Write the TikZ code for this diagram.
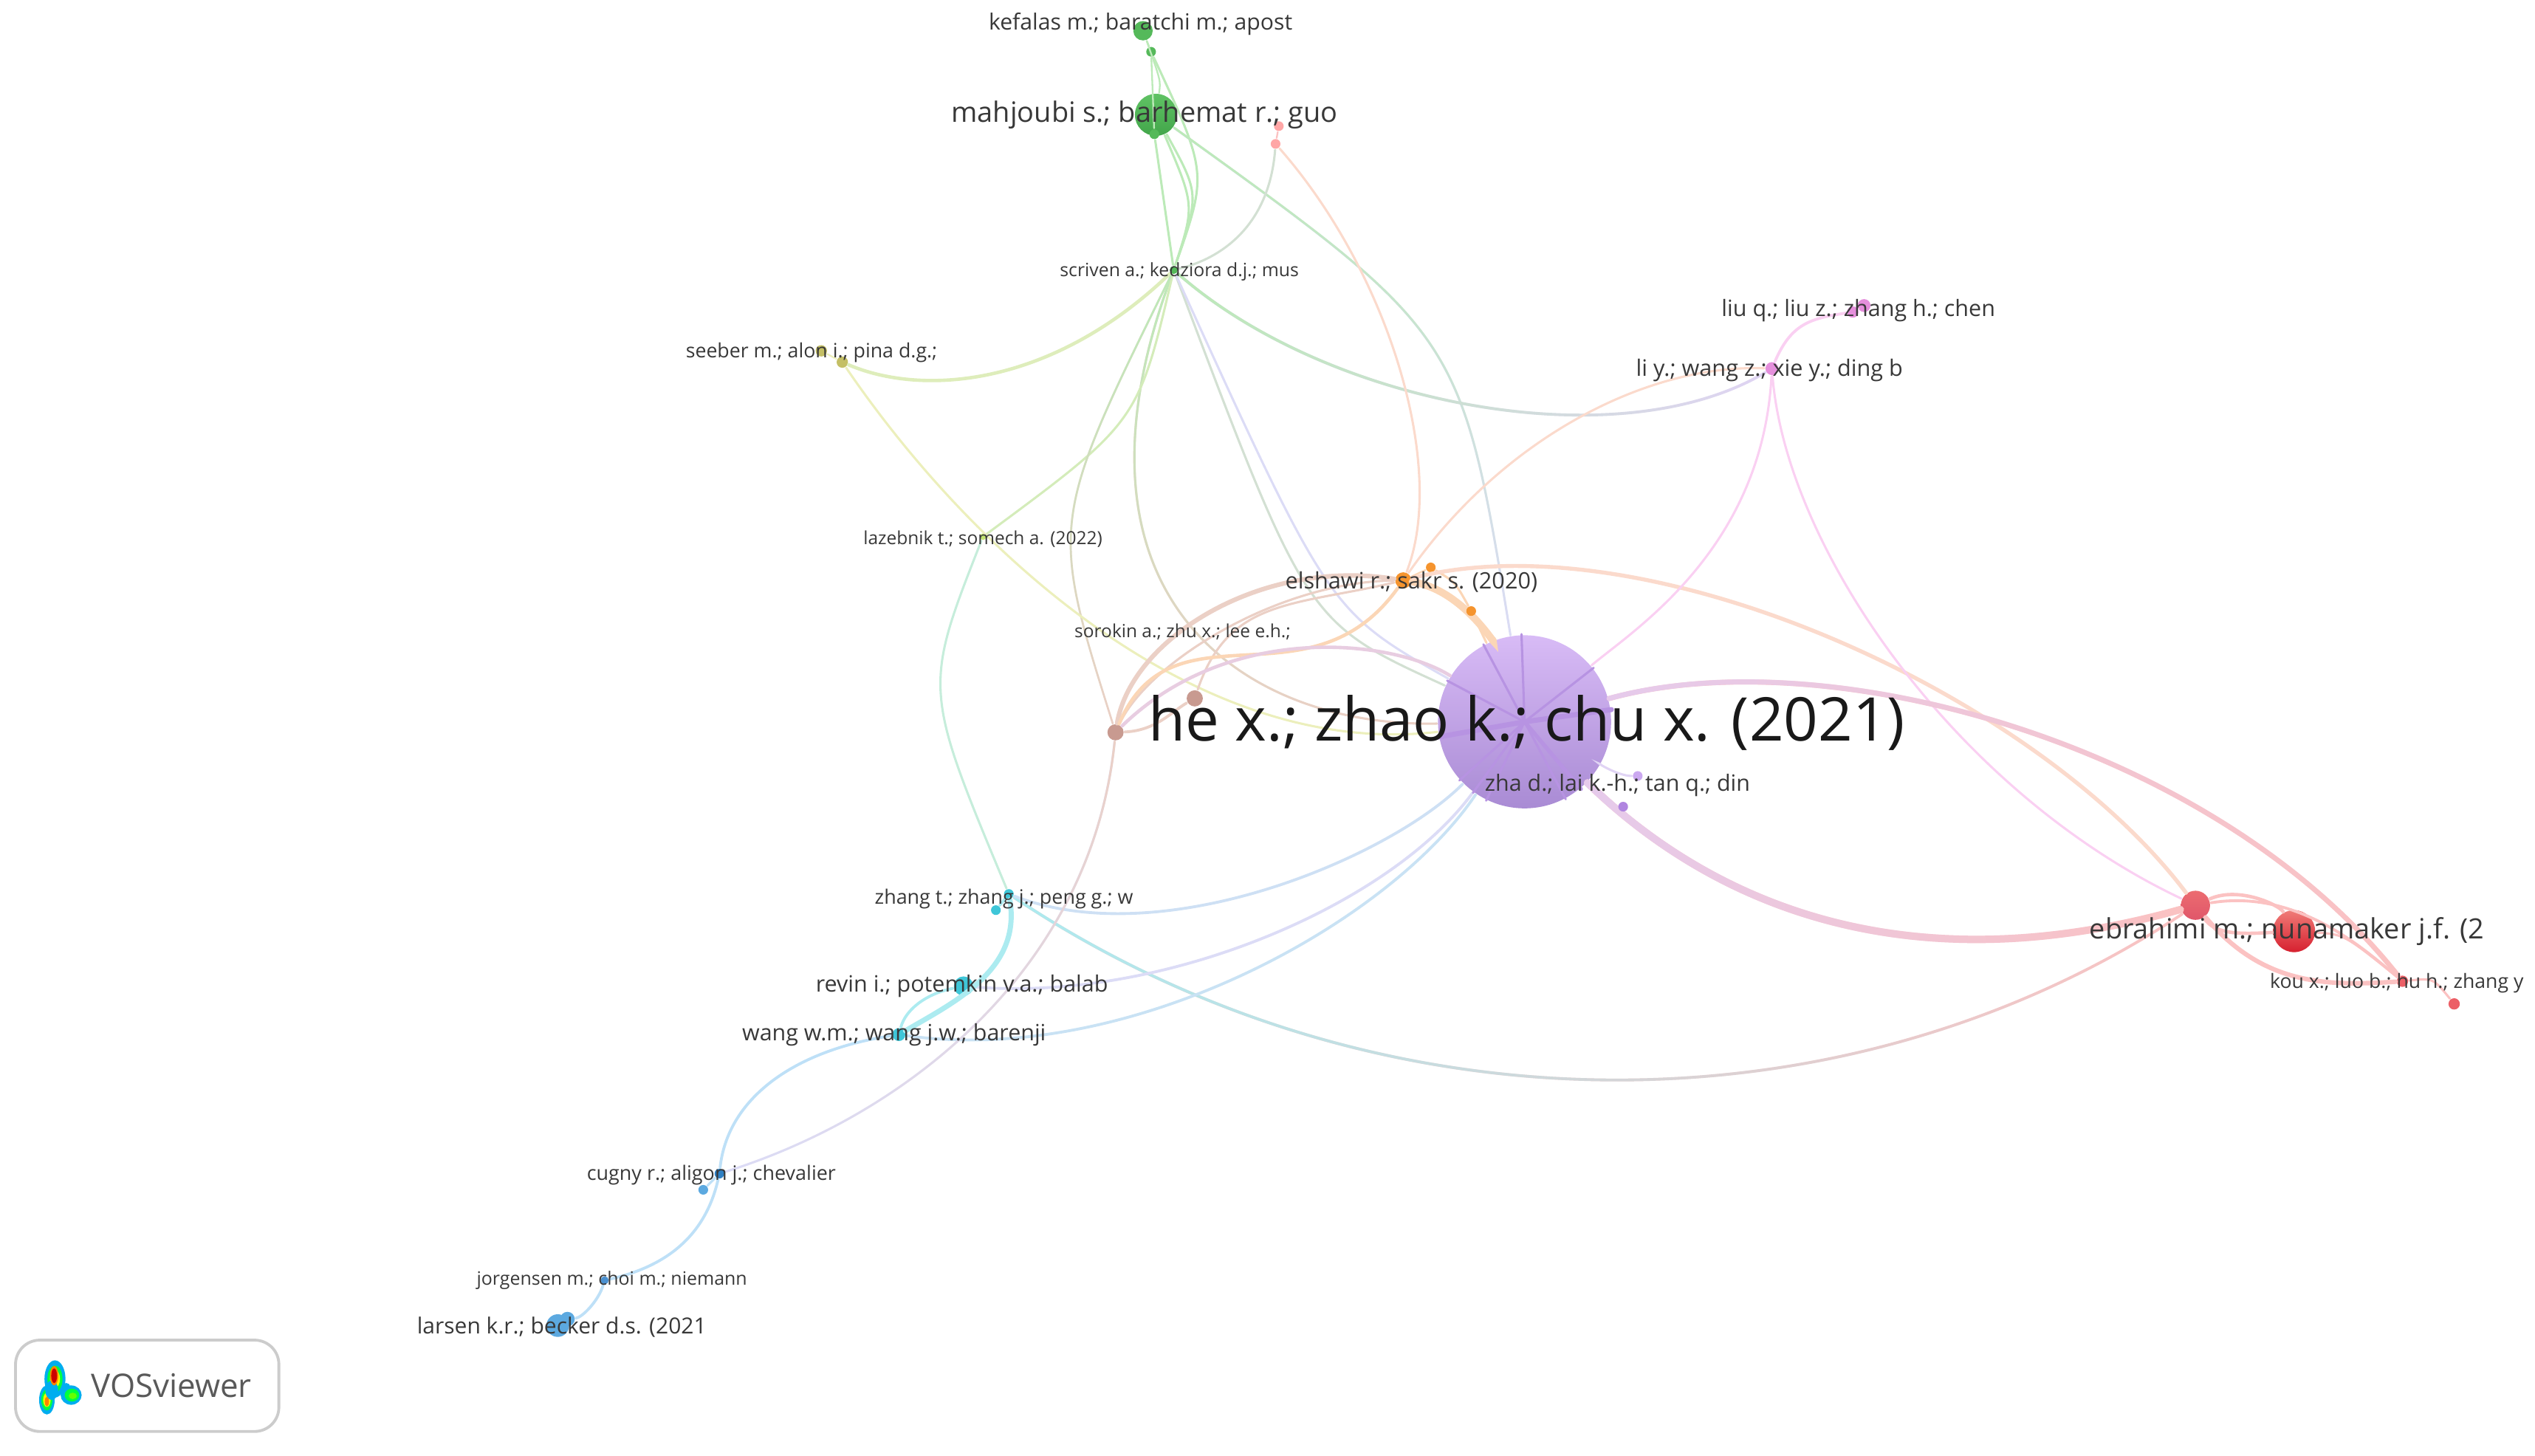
\documentclass[tikz,border=0pt]{standalone}
\usepackage{fontspec}
\setmainfont{Open Sans}
\usetikzlibrary{fadings}
\definecolor{greenlnk}{HTML}{BCEAB8}
\definecolor{greyg}{HTML}{D3E0D3}
\definecolor{violetlnk}{HTML}{E0D4F4}
\definecolor{orangelnk}{HTML}{FBD6B6}
\definecolor{peachlnk}{HTML}{FBDACC}
\definecolor{pinklnk}{HTML}{FAD0F2}
\definecolor{redlnk}{HTML}{FBC2C2}
\definecolor{brownlnk}{HTML}{EBD0C6}
\definecolor{yellowlnk}{HTML}{ECEFBC}
\definecolor{cyanlnk}{HTML}{ACEBF0}
\definecolor{bluelnk}{HTML}{BEE0F7}
\definecolor{lilaclnk}{HTML}{DCDCF6}
\definecolor{mauvelnk}{HTML}{E6CBEC}
\definecolor{greenpub}{HTML}{55B95A}
\definecolor{greentop}{HTML}{60C264}
\definecolor{greenbot}{HTML}{42A64A}
\definecolor{orangepub}{HTML}{F5942E}
\definecolor{brownpub}{HTML}{C89A90}
\definecolor{cyanpub}{HTML}{3FC6D8}
\definecolor{bluepub}{HTML}{5CA9E0}
\definecolor{bluedark}{HTML}{2F80C4}
\definecolor{bluemid}{HTML}{4A90D0}
\definecolor{pinkpub}{HTML}{E58FDC}
\definecolor{redpub}{HTML}{EC5F66}
\definecolor{heavytop}{HTML}{D8BBF6}
\definecolor{heavybot}{HTML}{A98BD4}
\definecolor{spoke}{HTML}{B793E2}
\definecolor{lilacpub}{HTML}{CBA8F0}
\definecolor{purplepub}{HTML}{B085E0}
\definecolor{ebratop}{HTML}{EC6C70}
\definecolor{ebrabot}{HTML}{E0566A}
\definecolor{nunatop}{HTML}{F07C78}
\definecolor{nunabot}{HTML}{D6202F}
\tikzset{
	pub/.style={circle,inner sep=0pt,minimum size=#1},
	ball/.style n args={2}{top color=#1,bottom color=#2,draw=none},
	lnk/.style={line width=#1,line cap=round},
	lnk/.default=0.3pt,
	lbl/.style={font=\fontsize{#1}{#1}\selectfont,text=black!78,inner sep=0pt}
}
\begin{document}
\begin{tikzpicture}[x=0.01cm,y=-0.01cm]
	%%%%% PUBLICATIONS %%%%%
	\useasboundingbox (0,0) rectangle (1568,900.3);
	
	\node[pub=0.12cm,fill=greenpub] (kefalasa) at (707,19) {};
	\node[pub=0.06cm,fill=greenpub] (kefalasb) at (712,32) {};
	\node[pub=0.26cm,ball={greentop}{greenbot}] (mahjoubi) at (715,71) {};
	\node[pub=0.06cm,fill=greenpub] (mahjoubib) at (714,83) {};
	\node[pub=0.05cm,fill=greenpub] (scriven) at (726,167) {};
	\node[pub=0.06cm,fill=red!35] (pinka) at (791,78) {};
	\node[pub=0.06cm,fill=red!35] (pinkb) at (789,89) {};
	\node[pub=0.07cm,fill=yellow!65!black!75] (seebera) at (508,217) {};
	\node[pub=0.07cm,fill=yellow!65!black!75] (seeberb) at (521,224) {};
	\node[pub=0.04cm,fill=yellow!60!green!60] (lazebnik) at (608,332) {};
	\node[pub=0.08cm,fill=pinkpub] (liua) at (1153,189) {};
	\node[pub=0.07cm,fill=pinkpub] (liub) at (1146,193) {};
	\node[pub=0.08cm,fill=pinkpub] (li) at (1096,228) {};
	\node[pub=0.10cm,fill=orangepub] (elshawi) at (868,359) {};
	\node[pub=0.06cm,fill=orangepub] (elshawib) at (885,351) {};
	\node[pub=0.10cm,fill=brownpub] (sorokin) at (739,432) {};
	\node[pub=0.10cm,fill=brownpub] (sorokinb) at (690,453) {};
	\node[pub=1.07cm,ball={heavytop}{heavybot}] (he) at (943,446.5) {};
	\node[pub=0.06cm,fill=lilacpub] (zhaa) at (1013,480) {};
	\node[pub=0.18cm,ball={ebratop}{ebrabot}] (ebrahimi) at (1358,560) {};
	\node[pub=0.26cm,ball={nunatop}{nunabot}] (nunamaker) at (1419,576) {};
	\node[pub=0.07cm,fill=redpub] (kou) at (1486,607) {};
	\node[pub=0.07cm,fill=redpub] (koub) at (1518,621) {};
	\node[pub=0.06cm,fill=cyanpub] (zhanga) at (624,553) {};
	\node[pub=0.06cm,fill=cyanpub] (zhangb) at (616,563) {};
	\node[pub=0.12cm,fill=cyanpub] (revin) at (596,610) {};
	\node[pub=0.08cm,fill=cyanpub] (wang) at (556,640) {};
	\node[pub=0.06cm,fill=bluedark] (cugnya) at (445,726) {};
	\node[pub=0.06cm,fill=bluepub] (cugnyb) at (435,736) {};
	\node[pub=0.05cm,fill=bluemid] (jorgensen) at (374,792) {};
	\node[pub=0.14cm,fill=bluepub] (larsen) at (345,820) {};
	\node[pub=0.09cm,fill=bluepub] (larsenb) at (351,816) {};
	
	%%%%% LINKS %%%%%
	\draw[lnk,greenlnk] (kefalasa) -- (kefalasb);
	\draw[lnk,greenlnk] (kefalasb) -- (mahjoubib);
	\draw[lnk,greenlnk] (kefalasa) .. controls (718,50) .. (mahjoubi);
	\draw[lnk=0.4pt,greenlnk] (kefalasb) .. controls (747,107) .. (scriven);
	\draw[lnk=0.4pt,greenlnk] (mahjoubib) -- (scriven);
	\draw[lnk=0.4pt,greenlnk] (mahjoubi) .. controls (739,127) .. (scriven);
	\draw[lnk=0.4pt,greenlnk] (mahjoubi) .. controls (742,120) .. (scriven);
	\draw[lnk=0.4pt,lilaclnk] (mahjoubi) .. controls (904,207) .. (he);
	\draw[lnk=0.4pt,greenlnk,path fading=south] (mahjoubi) .. controls (904,207) .. (he);
	\draw[lnk=0.4pt,greyg] (scriven) .. controls (808,385) .. (he);
	\draw[lnk=0.4pt,lilaclnk] (scriven) .. controls (822,378) .. (he);
	\draw[lnk=0.4pt,brownlnk] (scriven) .. controls (650,370) and (770,450) .. (he);
	\draw[lnk=0.4pt,greenlnk,path fading=south] (scriven) .. controls (650,370) and (770,450) .. (he);
	\draw[lnk=0.6pt,yellowlnk!70!greenlnk] (scriven) .. controls (650,240) and (570,245) .. (seeberb);
	\draw[lnk=0.5pt,violetlnk] (scriven) .. controls (820,250) and (1000,285) .. (li);
	\draw[lnk=0.5pt,greenlnk,path fading=east] (scriven) .. controls (820,250) and (1000,285) .. (li);
	\draw[lnk=0.4pt,yellowlnk!50!greenlnk] (scriven) .. controls (704,261) .. (lazebnik);
	\draw[lnk=0.35pt,brownlnk] (scriven) .. controls (649,323) .. (sorokinb);
	\draw[lnk=0.35pt,greenlnk,path fading=south] (scriven) .. controls (649,323) .. (sorokinb);
	\draw[lnk=0.4pt,yellowlnk] (seeberb) .. controls (600,340) and (740,470) .. (he);
	\draw[lnk,yellowlnk] (seebera) -- (seeberb);
	
	\draw[lnk=0.8pt,brownlnk] (sorokinb) .. controls (700,395) and (780,345) .. (elshawi);
	\draw[lnk=0.4pt,brownlnk] (sorokinb) .. controls (710,410) and (790,360) .. (elshawi);
	\draw[lnk=0.4pt,brownlnk] (sorokin) .. controls (760,370) and (800,375) .. (elshawi);
	\draw[lnk=0.6pt,orangelnk] (sorokinb) .. controls (725,370) and (810,440) .. (elshawi);
	\draw[lnk=0.6pt,mauvelnk!70!brownlnk] (sorokinb) .. controls (760,385) and (860,395) .. (he);
	\draw[lnk=0.5pt,brownlnk] (sorokinb) .. controls (715,452) and (725,440) .. (sorokin);
	\draw[lnk=1.3pt,orangelnk] (elshawi) .. controls (905,365) and (925,400) .. (he);
	\node[pub=0.06cm,fill=orangepub] (elshawic) at (910,378) {};
	\draw[lnk,orangelnk] (elshawi) -- (elshawib);
	\draw[lnk=0.4pt,orangelnk] (elshawib) .. controls (900,360) .. (elshawic);
	\draw[lnk=0.4pt,orangelnk] (elshawic) -- (he);
	\draw[lnk=0.4pt,peachlnk] (pinkb) .. controls (860,170) and (895,290) .. (elshawi);
	\draw[lnk=0.7pt,peachlnk] (elshawi) .. controls (1020,320) and (1260,430) .. (ebrahimi);
	\draw[lnk=0.4pt,peachlnk] (elshawi) .. controls (930,270) and (1020,225) .. (li);
	\draw[lnk,redlnk] (pinka) -- (pinkb);
	\draw[lnk=0.4pt,greyg] (pinkb) .. controls (785,140) and (755,160) .. (scriven);
	
	\draw[lnk=0.5pt,pinklnk] (li) .. controls (1108,200) and (1120,197) .. (liub);
	\draw[lnk,pinklnk] (liua) -- (liub);
	\draw[lnk=0.4pt,pinklnk] (li) .. controls (1090,340) and (1010,390) .. (he);
	\draw[lnk=0.4pt,pinklnk] (li) .. controls (1105,340) and (1210,490) .. (ebrahimi);
	
	\draw[lnk=0.9pt,redlnk] (he) .. controls (1130,395) and (1370,460) .. (kou);
	\draw[lnk=0.9pt,mauvelnk,path fading=east] (he) .. controls (1130,395) and (1370,460) .. (kou);
	\draw[lnk=1.3pt,redlnk] (he) .. controls (1060,560) and (1180,610) .. (ebrahimi);
	\draw[lnk=1.3pt,mauvelnk,path fading=east] (he) .. controls (1060,560) and (1180,610) .. (ebrahimi);
	\node[pub=0.06cm,fill=purplepub] (zhab) at (1004,499) {};
	\draw[lnk=0.4pt,violetlnk] (he) .. controls (985,470) and (1000,480) .. (zhaa);
	\draw[lnk=0.6pt,redlnk] (ebrahimi) .. controls (1385,548) and (1410,560) .. (nunamaker);
	\draw[lnk=0.6pt,redlnk] (ebrahimi) .. controls (1370,578) and (1385,578) .. (nunamaker);
	\draw[lnk=0.8pt,redlnk] (ebrahimi) .. controls (1400,610) and (1440,610) .. (kou);
	\draw[lnk=0.5pt,redlnk] (ebrahimi) .. controls (1420,550) and (1460,585) .. (kou);
	\draw[lnk=0.4pt,redlnk] (nunamaker) .. controls (1450,578) .. (kou);
	\draw[lnk=0.4pt,redlnk] (kou) .. controls (1505,605) .. (koub);
	
	\draw[lnk=0.5pt,redlnk] (zhanga) .. controls (850,704) and (1140,704) .. (ebrahimi);
	\draw[lnk=0.5pt,cyanlnk,path fading=east] (zhanga) .. controls (850,704) and (1140,704) .. (ebrahimi);
	\draw[lnk=0.5pt,lilaclnk] (he) .. controls (860,560) and (720,620) .. (revin);
	\draw[lnk=0.5pt,lilaclnk!70!cyanlnk] (he) .. controls (860,530) and (720,590) .. (zhanga);
	\draw[lnk=0.5pt,lilaclnk!60!cyanlnk] (he) .. controls (860,570) and (700,660) .. (wang);
	\draw[lnk=0.4pt,lilaclnk] (sorokinb) .. controls (675,600) and (560,690) .. (cugnya);
	\draw[lnk=0.4pt,brownlnk,path fading=south] (sorokinb) .. controls (675,600) and (560,690) .. (cugnya);
	\draw[lnk=0.9pt,cyanlnk] (zhanga) .. controls (632,600) and (590,620) .. (wang);
	\draw[lnk=0.5pt,cyanlnk] (zhanga) -- (zhangb);
	\draw[lnk=0.5pt,cyanlnk] (revin) .. controls (572,615) and (560,625) .. (wang);
	\draw[lnk=0.4pt,cyanlnk!60!yellowlnk] (lazebnik) .. controls (571,426) .. (zhanga);
	\draw[lnk=0.5pt,bluelnk] (wang) .. controls (490,650) and (450,680) .. (cugnya);
	\draw[lnk=0.4pt,bluelnk] (cugnya) -- (cugnyb);
	\draw[lnk=0.5pt,bluelnk] (cugnya) .. controls (435,770) and (405,785) .. (jorgensen);
	\draw[lnk=0.5pt,bluelnk] (jorgensen) .. controls (370,805) and (360,815) .. (larsenb);
	
	\foreach \ang/\wid in {38/0.4pt,92/0.4pt,118/0.4pt,152/0.4pt,190/0.9pt,222/0.4pt,234/0.4pt,244/0.4pt,-50/0.7pt,-62/0.4pt,8/0.9pt} {
		\draw[lnk=\wid,spoke] (he.center) -- (he.\ang);
	}
	
	%%%%% LABELS %%%%%
	\node[lbl=3.92] (kefalaslbl) at (705.5,15) {kefalas m.; baratchi m.; apost};
	\node[lbl=4.93] (mahjoubilbl) at (708,71) {mahjoubi s.; barhemat r.; guo};
	\node[lbl=3.22] (scrivenlbl) at (729.5,168) {scriven a.; kedziora d.j.; mus};
	\node[lbl=3.47] (seeberlbl) at (502,218) {seeber m.; alon i.; pina d.g.;};
	\node[lbl=3.96] (liulbl) at (1149.5,192) {liu q.; liu z.; zhang h.; chen};
	\node[lbl=3.98] (lilbl) at (1094.5,229) {li y.; wang z.; xie y.; ding b};
	\node[lbl=3.18] (lazebniklbl) at (608,333.5) {lazebnik t.; somech a. (2022)};
	\node[lbl=3.98] (elshawilbl) at (873,360) {elshawi r.; sakr s. (2020)};
	\node[lbl=3.18] (sorokinlbl) at (731.5,391) {sorokin a.; zhu x.; lee e.h.;};
	\node[lbl=10.6,text=black!90] (helbl) at (944.5,447) {he x.; zhao k.; chu x. (2021)};
	\node[lbl=3.95] (zhalbl) at (1000.5,486) {zha d.; lai k.-h.; tan q.; din};
	\node[lbl=4.92] (ebrahimilbl) at (1414.5,576) {ebrahimi m.; nunamaker j.f. (2};
	\node[lbl=3.46] (koulbl) at (1482.5,608) {kou x.; luo b.; hu h.; zhang y};
	\node[lbl=3.49] (zhanglbl) at (621,556) {zhang t.; zhang j.; peng g.; w};
	\node[lbl=3.96] (revinlbl) at (595,610) {revin i.; potemkin v.a.; balab};
	\node[lbl=3.95] (wanglbl) at (553,640) {wang w.m.; wang j.w.; barenji};
	\node[lbl=3.5] (cugnylbl) at (440,727) {cugny r.; aligon j.; chevalier};
	\node[lbl=3.24] (jorgensenlbl) at (378.5,792) {jorgensen m.; choi m.; niemann};
	\node[lbl=3.9] (larsenlbl) at (347.5,821) {larsen k.r.; becker d.s. (2021};
	
	%%%%% LOGO %%%%%
	\draw[draw=black!20,line width=0.5pt,rounded corners=0.15cm] (9.6,829) rectangle (172.5,885.5);
	\foreach \col/\grow in {cyan/1,green!75!cyan/0.72,yellow/0.48} {
		\fill[\col] (34,853) ellipse ({6.5*\grow} and {11.5*\grow});
		\fill[\col] (29,866) ellipse ({4.8*\grow} and {9*\grow});
	}
	\fill[cyan] (32,860) ellipse (4 and 6);
	\fill[cyan] (41,858) ellipse (2.5 and 2.5);
	\fill[cyan] (44,863) ellipse (6.5 and 6);
	\fill[green!75!cyan] (44.5,863) ellipse (4.5 and 4);
	\fill[green!60!yellow] (45,863.5) ellipse (2.5 and 2);
	\fill[orange] (29,867) ellipse (1.3 and 3);
	\fill[orange] (33.5,851) ellipse (2.6 and 6);
	\fill[red!80!black] (33.5,851) ellipse (1.8 and 4.5);
	\node[lbl=5.7,text=black!65] (voslbl) at (106,857) {VOSviewer};
	
	%%%%% END %%%%%
\end{tikzpicture}
\end{document}
